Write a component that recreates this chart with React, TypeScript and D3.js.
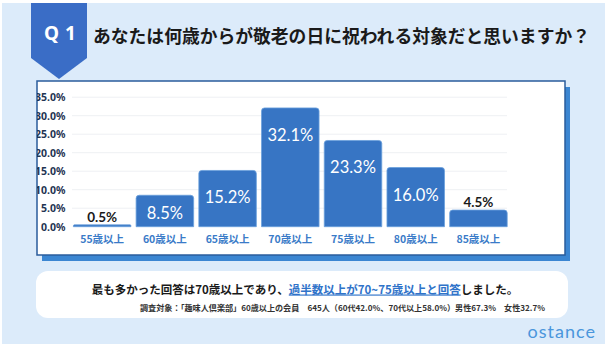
import React from 'react';
import * as d3 from 'd3';

const categories = ['55歳以上', '60歳以上', '65歳以上', '70歳以上', '75歳以上', '80歳以上', '85歳以上'];
const values = [0.5, 8.5, 15.2, 32.1, 23.3, 16.0, 4.5];
const yTicks = [0, 5, 10, 15, 20, 25, 30, 35];
const titleText = 'あなたは何歳からが敬老の日に祝われる対象だと思いますか？';
const badgeText = 'Q1';
const commentParts = [
  { text: '最も多かった回答は70歳以上であり、', hl: false },
  { text: '過半数以上が70~75歳以上と回答', hl: true },
  { text: 'しました。', hl: false },
];
const noteText = '調査対象：「趣味人倶楽部」60歳以上の会員　645人（60代42.0%、70代以上58.0%）男性67.3%　女性32.7%';
const logoText = 'ostance';

const W = 606;
const H = 344;
const JP = '"Noto Sans CJK JP", "Noto Sans", sans-serif';

export default function App() {
  const x = d3.scaleBand<string>().domain(categories).range([70.8, 509.8]).paddingInner(0.083).paddingOuter(0.0415);
  const y = d3.scaleLinear().domain([0, 35]).range([226.7, 97.2]);
  const bw = x.bandwidth();

  const barPath = (xs: number, top: number, bottom: number, w: number) => {
    const r = Math.min(3, (bottom - top) / 2);
    const p = d3.path();
    p.moveTo(xs, bottom);
    p.lineTo(xs, top + r);
    p.quadraticCurveTo(xs, top, xs + r, top);
    p.lineTo(xs + w - r, top);
    p.quadraticCurveTo(xs + w, top, xs + w, top + r);
    p.lineTo(xs + w, bottom);
    p.closePath();
    return p.toString();
  };

  return (
    <svg width={W} height={H} style={{ position: 'absolute', left: 0, top: 0, display: 'block' }}>
      <defs>
        <clipPath id="panelClip">
          <rect x={37} y={81} width={528} height={174} />
        </clipPath>
      </defs>
      <rect x={0} y={0} width={W} height={H} fill="#ffffff" />
      <rect x={2} y={3} width={W - 3} height={H - 3} fill="#dcebfa" />

      {/* badge */}
      <path d="M31,3 H87 V58 L59,79 L31,58 Z" fill="#3a6dc6" />
      <text x={44} y={33} dominantBaseline="central" fill="#fff" fontFamily='"Noto Sans", sans-serif' fontWeight={700} fontSize={19} letterSpacing={6}>{badgeText}</text>
      <text x={93} y={35} dominantBaseline="central" fill="#1a1a1a" fontFamily={JP} fontWeight={700} fontSize={17.8}>{titleText}</text>

      {/* panel */}
      <rect x={42} y={87} width={528} height={174} fill="#3b86d2" />
      <rect x={37} y={81} width={528} height={174} fill="#ffffff" stroke="#2a5c9c" strokeWidth={1.5} />

      <g clipPath="url(#panelClip)">
        {yTicks.filter((t) => t > 0).map((t) => (
          <line key={'g' + t} x1={72} x2={507} y1={y(t)} y2={y(t)} stroke="#eef0f3" strokeWidth={1} />
        ))}
        {yTicks.map((t) => (
          <text key={'t' + t} x={65.5} y={y(t)} textAnchor="end" dominantBaseline="central" fill="#1f3553" fontFamily='"Noto Sans", sans-serif' fontWeight={700} fontSize={10.5}>
            {t.toFixed(1) + '%'}
          </text>
        ))}
      </g>

      {categories.map((c, i) => {
        const v = values[i];
        const x0 = x(c) as number;
        const top = y(v);
        const base = y(0);
        const inside = v > 6;
        const ly = inside ? Math.min(top + 27, (top + base) / 2 + 2) : top - 8;
        return (
          <g key={c}>
            <path d={barPath(x0, top, base, bw)} fill="#3775c4" stroke="#6a9fdc" strokeWidth={0.8} />
            <text x={x0 + bw / 2} y={ly} textAnchor="middle" dominantBaseline="central"
              fill={inside ? '#ffffff' : '#1a1a1a'} fontFamily='Lato, "Noto Sans", sans-serif'
              fontWeight={inside ? 400 : 700} fontSize={inside ? 16.5 : 13.5}>
              {v.toFixed(1) + '%'}
            </text>
            <text x={x0 + bw / 2} y={238.5} textAnchor="middle" dominantBaseline="central" fill="#3a7bc8" fontFamily={JP} fontWeight={700} fontSize={10.5}>
              {c}
            </text>
          </g>
        );
      })}

      {/* comment box */}
      <rect x={36} y={271} width={532} height={47} rx={12} fill="#ffffff" />
      <text x={305} y={288.5} textAnchor="middle" dominantBaseline="central" fontFamily={JP} fontWeight={700} fontSize={11.5} fill="#1a1a1a">
        {commentParts.map((p, i) => (
          <tspan key={i} fill={p.hl ? '#2f73c9' : '#1a1a1a'} style={p.hl ? { textDecoration: 'underline' } : undefined}>{p.text}</tspan>
        ))}
      </text>
      <text x={140} y={307} dominantBaseline="central" fontFamily={JP} fontWeight={700} fontSize={8.1} fill="#333333">{noteText}</text>

      <text x={596} y={338} textAnchor="end" fontFamily='Lato, "Open Sans", sans-serif' fontWeight={400} fontSize={18} letterSpacing={1} fill="#4a96dc">{logoText}</text>
    </svg>
  );
}
